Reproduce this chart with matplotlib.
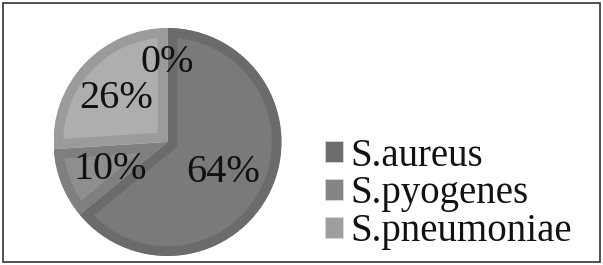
import matplotlib
matplotlib.use("Agg")
import matplotlib.pyplot as plt
from matplotlib.patches import Rectangle, Patch

categories = ["S.aureus", "S.pyogenes", "S.pneumoniae", ""]
values = [64, 10, 26, 0]
legend_labels = ["S.aureus", "S.pyogenes", "S.pneumoniae"]

fills = ["#7a7a7a", "#8e8e8e", "#aeaeae", "#c0c0c0"]
edges = ["#6b6b6b", "#7f7f7f", "#9b9b9b", "#aaaaaa"]
legend_colors = ["#6c6c6c", "#858585", "#9e9e9e"]
label_dist = [0.54, 0.54, 0.62, 0.74]

plt.rcParams['font.family'] = ['Liberation Serif', 'DejaVu Serif']

W, H = 603, 265
fig = plt.figure(figsize=(W / 100, H / 100), dpi=100)
fig.patch.set_facecolor("white")
fig.patches.append(Rectangle((3 / W, 3 / H), (W - 6) / W, (H - 6) / H,
                             transform=fig.transFigure, fill=False,
                             edgecolor="#333333", linewidth=1.2))

cx, cy, r = 167.5, 142, 114
ax = fig.add_axes([(cx - r) / W, (H - cy - r) / H, 2 * r / W, 2 * r / H])
pctd = 0.6
wedges, texts, autotexts = ax.pie(values, startangle=90, counterclock=False,
                                  colors=fills, autopct='%d%%', pctdistance=pctd,
                                  wedgeprops=dict(linewidth=14, edgecolor="none"),
                                  textprops=dict(fontsize=29, color="#111111"))
ax.set_xlim(-1, 1)
ax.set_ylim(-1, 1)
ax.set_aspect("equal")
ax.axis("off")
for w, ec in zip(wedges, edges):
    w.set_edgecolor(ec)
    w.set_clip_on(True)
    w.set_clip_path(w)
for t, d in zip(autotexts, label_dist):
    x, y = t.get_position()
    t.set_position((x / pctd * d, y / pctd * d))
    t.set_verticalalignment("center_baseline")

handles = [Patch(facecolor=c, edgecolor="#dddddd", linewidth=0.5) for c in legend_colors]
leg = fig.legend(handles, legend_labels, loc="center left",
                 bbox_to_anchor=(325 / W, 71 / H), frameon=False,
                 fontsize=28, handlelength=0.46, handleheight=0.46,
                 handletextpad=0.2, labelspacing=0.02, borderpad=0, borderaxespad=0)
for t in leg.get_texts():
    t.set_color("#111111")

fig.savefig("out.png", dpi=100)
